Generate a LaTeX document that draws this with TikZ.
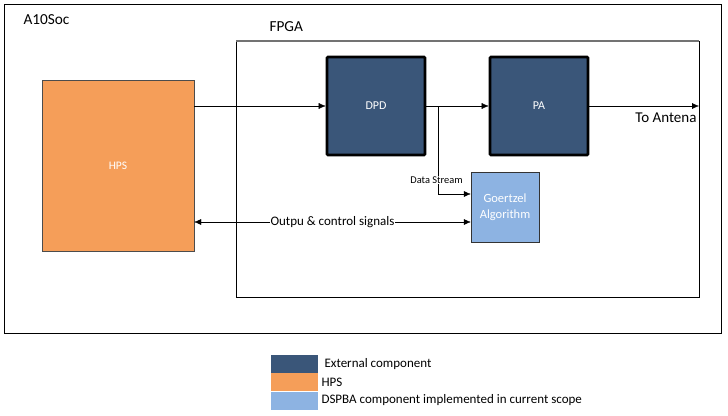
\documentclass[tikz,border=0pt]{standalone}
\usepackage{fontspec}
\setmainfont{Carlito}
\usepackage{tikz}
\usetikzlibrary{arrows.meta,positioning}

\definecolor{extblue}{HTML}{3A5679}
\definecolor{hpsorange}{HTML}{F59E59}
\definecolor{dspblue}{HTML}{8DB3E2}

\begin{document}
\begin{tikzpicture}[
		x=1pt, y=-1pt,
		ext/.style={draw=black,line width=2.6pt,rounded corners=1pt,fill=extblue,text=white,minimum width=98pt,minimum height=98pt,font=\fontsize{12}{14}\selectfont},
		hps/.style={draw=black!70,fill=hpsorange,text=white,minimum width=152pt,minimum height=171pt,font=\fontsize{11.5}{14}\selectfont},
		dsp/.style={draw=black!80,fill=dspblue,text=white,minimum width=68pt,minimum height=70pt,align=center,font=\fontsize{12.5}{15.5}\selectfont},
		swatch/.style={minimum width=47pt,minimum height=18pt,inner sep=0pt},
		legtext/.style={right,font=\fontsize{13}{15}\selectfont},
		>={Latex[length=7pt,width=6pt]}]
	\useasboundingbox (0,0) rectangle (728,415);
	%% frames
	\draw[black,line width=0.8pt] (4,4) rectangle (721,333);
	\draw[black,line width=0.8pt] (236,41) rectangle (699,297);
	\draw[black!55,line width=1.4pt] (236,41) -- (699,41);
	\node[right,font=\fontsize{15.3}{18}\selectfont] (soc) at (20,20) {A10Soc};
	\node[right,font=\fontsize{15.3}{18}\selectfont] (fpga) at (266,27) {FPGA};
	%% blocks
	\node[hps] (HPS) at (118,165.5) {HPS};
	\node[ext] (DPD) at (376,106) {DPD};
	\node[ext] (PA) at (539,106) {PA};
	\node[dsp] (G) at (505,207) {Goertzel\\Algorithm};
	\coordinate (ant) at (699,106);
	\coordinate (tap) at (438,106);
	%% connections
	\draw[->,thin] (HPS.east |- DPD.west) -- (DPD.west);
	\draw[->,thin] (DPD.east) -- (PA.west);
	\draw[->,thin] (PA.east) -- (ant);
	\node[below left=3pt and -1pt of ant,font=\fontsize{15}{17}\selectfont] (antlbl) {To Antena};
	\draw[->,thin] (tap) |- ([yshift=13pt]G.west);
	\node[fill=white,inner sep=1pt,font=\fontsize{10.4}{12}\selectfont] (ds) at (436.5,180) {Data Stream};
	\draw[<->,thin] (HPS.east |- 0,222) -- ([yshift=-15pt]G.west)
		node[midway,fill=white,inner sep=1pt,font=\fontsize{13}{15}\selectfont] (ctl) {Outpu \& control signals};
	%% legend
	\node[swatch,fill=extblue] (k1) at (294.5,364) {};
	\node[swatch,fill=hpsorange,below=0pt of k1] (k2) {};
	\node[swatch,fill=dspblue,below=0pt of k2] (k3) {};
	\node[legtext] (l1) at (321,364) {External component};
	\node[legtext] (l2) at (318,382) {HPS};
	\node[legtext] (l3) at (318,400) {DSPBA component implemented in current scope};
\end{tikzpicture}
\end{document}
